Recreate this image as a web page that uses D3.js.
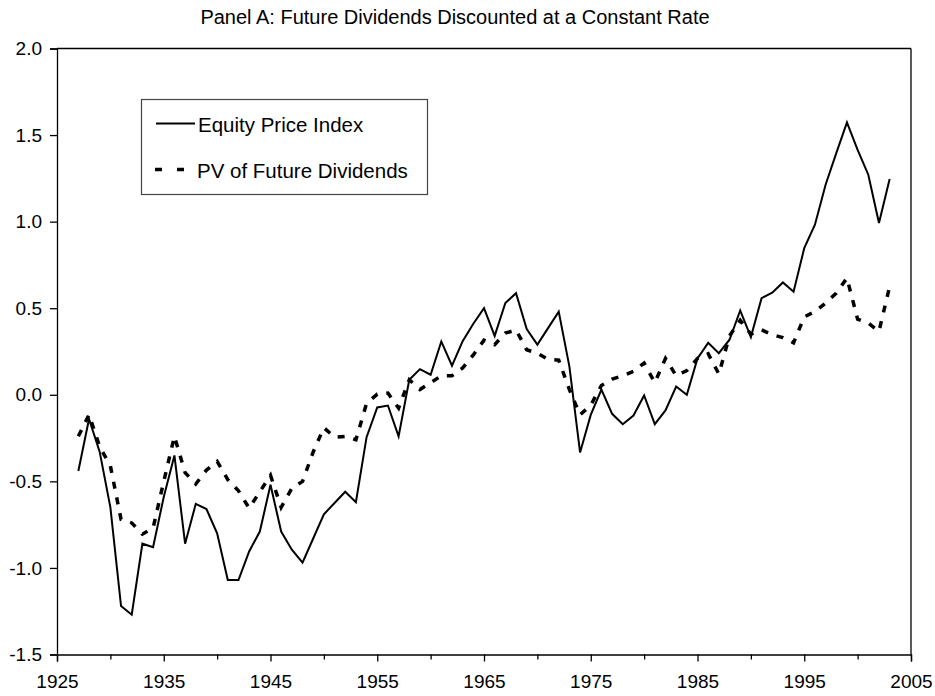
<!DOCTYPE html>
<html>
<head>
<meta charset="utf-8">
<script src="https://cdn.jsdelivr.net/npm/d3@7"></script>
<style>
  body { margin: 0; background: #fff; }
  text { font-family: "Liberation Sans", Arial, sans-serif; fill: #000; }
</style>
</head>
<body>
<script>
var years = [1927, 1928, 1929, 1930, 1931, 1932, 1933, 1934, 1935, 1936,
  1937, 1938, 1939, 1940, 1941, 1942, 1943, 1944, 1945, 1946,
  1947, 1948, 1949, 1950, 1951, 1952, 1953, 1954, 1955, 1956,
  1957, 1958, 1959, 1960, 1961, 1962, 1963, 1964, 1965, 1966,
  1967, 1968, 1969, 1970, 1971, 1972, 1973, 1974, 1975, 1976,
  1977, 1978, 1979, 1980, 1981, 1982, 1983, 1984, 1985, 1986,
  1987, 1988, 1989, 1990, 1991, 1992, 1993, 1994, 1995, 1996,
  1997, 1998, 1999, 2000, 2001, 2002, 2003];

var equity = [-0.44, -0.14, -0.33, -0.65, -1.22, -1.27, -0.86, -0.88, -0.59, -0.35,
  -0.86, -0.63, -0.66, -0.80, -1.07, -1.07, -0.905, -0.79, -0.52, -0.79,
  -0.895, -0.97, -0.83, -0.69, -0.625, -0.56, -0.62, -0.245, -0.073, -0.062,
  -0.24, 0.087, 0.148, 0.116, 0.308, 0.168, 0.31, 0.41, 0.50, 0.34,
  0.53, 0.587, 0.38, 0.29, 0.385, 0.48, 0.163, -0.333, -0.116, 0.03,
  -0.11, -0.17, -0.12, -0.004, -0.17, -0.09, 0.048, 0.0, 0.21, 0.30,
  0.24, 0.318, 0.487, 0.333, 0.558, 0.59, 0.649, 0.595, 0.847, 0.982,
  1.213, 1.396, 1.573, 1.415, 1.271, 0.992, 1.246];

var pvDividends = [-0.24, -0.115, -0.30, -0.41, -0.72, -0.74, -0.805, -0.77, -0.50, -0.24,
  -0.45, -0.515, -0.435, -0.385, -0.49, -0.555, -0.655, -0.56, -0.465, -0.65,
  -0.54, -0.50, -0.33, -0.19, -0.245, -0.24, -0.26, -0.05, 0.004, 0.01,
  -0.077, 0.087, 0.03, 0.07, 0.11, 0.11, 0.155, 0.23, 0.315, 0.29,
  0.356, 0.375, 0.26, 0.24, 0.205, 0.20, 0.03, -0.116, -0.06, 0.054,
  0.09, 0.11, 0.135, 0.183, 0.07, 0.21, 0.11, 0.14, 0.21, 0.237,
  0.12, 0.34, 0.43, 0.35, 0.375, 0.347, 0.33, 0.30, 0.45, 0.48,
  0.53, 0.587, 0.674, 0.437, 0.414, 0.366, 0.626];

var xMajorTicks = [1925, 1935, 1945, 1955, 1965, 1975, 1985, 1995, 2005];
var xMinorTicks = [1930, 1940, 1950, 1960, 1970, 1980, 1990, 2000];
var yTicks = [-1.5, -1.0, -0.5, 0.0, 0.5, 1.0, 1.5, 2.0];

var title = 'Panel A: Future Dividends Discounted at a Constant Rate';
var seriesNames = ['Equity Price Index', 'PV of Future Dividends'];

var svg = d3.select('body').append('svg').attr('width', 935).attr('height', 696);

var x = d3.scaleLinear().domain([1925, 2005]).range([57, 911]);
var y = d3.scaleLinear().domain([-1.5, 2.0]).range([654.5, 48.5]);

svg.append('text').attr('x', 455).attr('y', 24).attr('text-anchor', 'middle')
  .style('font-size', '20px').text(title);

// frame: top and right sides
svg.append('line').attr('x1', x(1925)).attr('x2', x(2005)).attr('y1', y(2.0)).attr('y2', y(2.0))
  .attr('stroke', '#000').attr('stroke-width', 1.3);
svg.append('line').attr('x1', x(2005)).attr('x2', x(2005)).attr('y1', y(2.0)).attr('y2', y(-1.5))
  .attr('stroke', '#000').attr('stroke-width', 1.3);

var xAxis = d3.axisBottom(x).tickValues(xMajorTicks).tickSize(7).tickPadding(13)
  .tickFormat(d3.format('d'));
var xMinor = d3.axisBottom(x).tickValues(xMinorTicks).tickSize(5).tickFormat('');
var yAxis = d3.axisLeft(y).tickValues(yTicks).tickSize(7).tickPadding(8)
  .tickFormat(function (d) { return d.toFixed(1); });

var gx = svg.append('g').attr('transform', 'translate(0,' + y(-1.5) + ')').call(xAxis);
svg.append('g').attr('transform', 'translate(0,' + y(-1.5) + ')').call(xMinor)
  .select('.domain').remove();
var gy = svg.append('g').attr('transform', 'translate(' + x(1925) + ',0)').call(yAxis);

svg.selectAll('.domain').attr('stroke-width', 1.3);
svg.selectAll('.tick line').attr('stroke-width', 1.3);
svg.selectAll('.tick text').style('font-size', '19px').style('font-family', '"Liberation Sans", Arial, sans-serif').attr('fill', '#000');

var line = d3.line().x(function (d, i) { return x(years[i]); }).y(function (d) { return y(d); });

svg.append('path').attr('d', line(pvDividends)).attr('fill', 'none')
  .attr('stroke', '#000').attr('stroke-width', 3.5).attr('stroke-dasharray', '7,9');
svg.append('path').attr('d', line(equity)).attr('fill', 'none')
  .attr('stroke', '#000').attr('stroke-width', 2).attr('stroke-linejoin', 'miter');

// legend
var legend = svg.append('g');
legend.append('rect').attr('x', 141.5).attr('y', 99.5).attr('width', 286).attr('height', 95)
  .attr('fill', '#fff').attr('stroke', '#444').attr('stroke-width', 1.2);
legend.append('line').attr('x1', 156).attr('x2', 195).attr('y1', 123.5).attr('y2', 123.5)
  .attr('stroke', '#000').attr('stroke-width', 2);
legend.append('line').attr('x1', 155).attr('x2', 184).attr('y1', 169.5).attr('y2', 169.5)
  .attr('stroke', '#000').attr('stroke-width', 3.5).attr('stroke-dasharray', '7,15');
legend.append('text').attr('x', 198).attr('y', 131.5).style('font-size', '20.5px').text(seriesNames[0]);
legend.append('text').attr('x', 197).attr('y', 177.5).style('font-size', '20.5px').text(seriesNames[1]);
</script>
</body>
</html>
